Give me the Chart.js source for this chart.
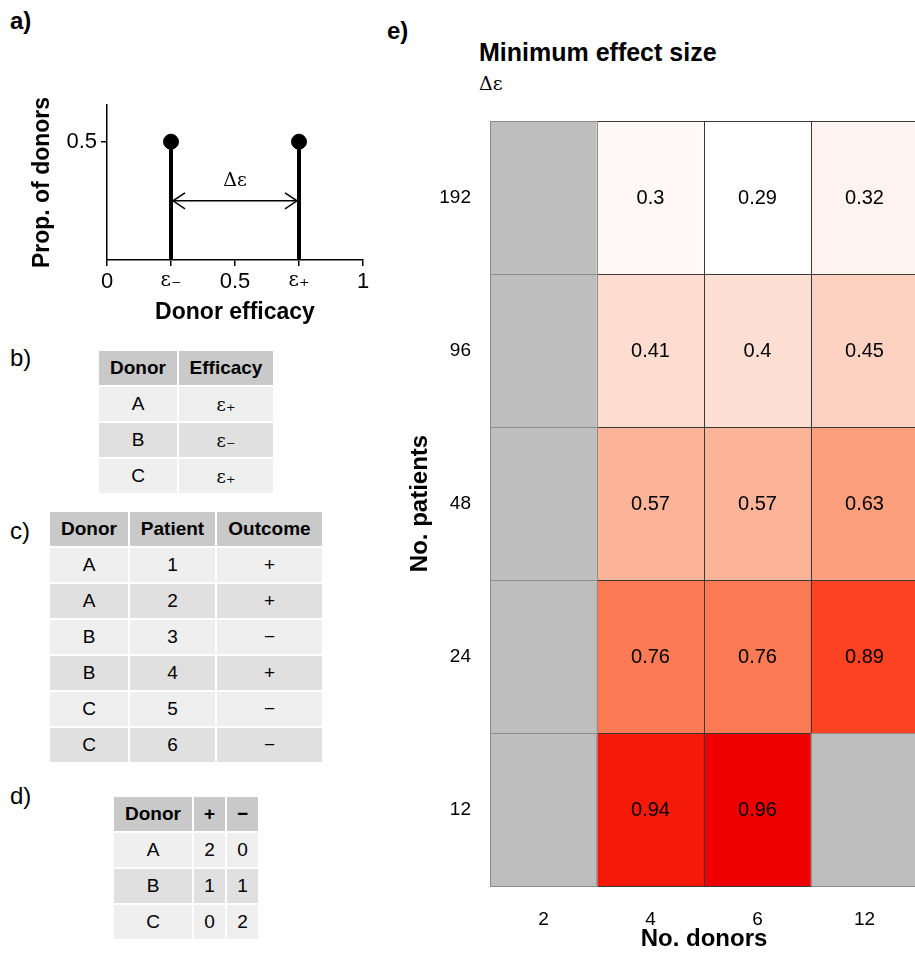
<!DOCTYPE html>
<html><head><meta charset="utf-8">
<script src="https://cdn.jsdelivr.net/npm/chart.js@4.4.1/dist/chart.umd.min.js"></script>
<style>
html,body{margin:0;padding:0;background:#fff;width:915px;height:954px;overflow:hidden;position:relative;font-family:"Liberation Sans",Arial,sans-serif;color:#000;}
.lbl{position:absolute;font-size:24px;line-height:1;white-space:nowrap;}
.b{font-weight:bold;}
.serif{font-family:"DejaVu Serif","Liberation Serif",serif;}
table{position:absolute;border-collapse:separate;border-spacing:2px;font-size:19px;text-align:center;}
th{background:#c9c9c9;font-weight:bold;height:34px;padding:0;}
td{height:34px;padding:0;}
tr.l td{background:#efefef}
tr.d td{background:#e0e0e0}
.eps{font-family:"DejaVu Serif","Liberation Serif",serif;font-size:18px;}
#wa{position:absolute;left:24px;top:95px;width:354px;height:234px;}
#we{position:absolute;left:380px;top:0;width:540px;height:954px;}
</style></head><body>
<div class="lbl b" style="left:10px;top:9px">a)</div>
<div class="lbl" style="left:10px;top:346px">b)</div>
<div class="lbl" style="left:10px;top:519px">c)</div>
<div class="lbl" style="left:10px;top:784px">d)</div>
<div class="lbl b" style="left:387px;top:19px">e)</div>
<div class="lbl b" style="left:479px;top:40px;font-size:25px">Minimum effect size</div>
<div class="lbl serif" style="left:479px;top:74px;font-size:19px">Δε</div>
<div id="wa"><canvas id="ca"></canvas></div>
<div id="we"><canvas id="ce"></canvas></div>
<table id="tb" style="left:97px;top:349px"></table>
<table id="tc" style="left:48px;top:510px"></table>
<table id="td" style="left:112px;top:795px"></table>
<script>
// ---------- Panel a data ----------
const efficacyLevels = [0.25, 0.75];
const donorProportion = [0.5, 0.5];
const xTickValues = [0, 0.25, 0.5, 0.75, 1];
const xTickLabels = ['0', 'ε₋', '0.5', 'ε₊', '1'];
const yTickValues = [0.5];
const arrowLevel = 0.25;
const deltaLabelLevel = 0.335;

// ---------- Tables data ----------
const tableBHeader = ['Donor', 'Efficacy'];
const tableBDonors = ['A', 'B', 'C'];
const tableBEfficacy = ['ε₊', 'ε₋', 'ε₊'];
const tableCHeader = ['Donor', 'Patient', 'Outcome'];
const tableCDonors = ['A', 'A', 'B', 'B', 'C', 'C'];
const tableCPatients = ['1', '2', '3', '4', '5', '6'];
const tableCOutcomes = ['+', '+', '−', '+', '−', '−'];
const tableDHeader = ['Donor', '+', '−'];
const tableDDonors = ['A', 'B', 'C'];
const tableDPositive = [2, 1, 0];
const tableDNegative = [0, 1, 2];

// ---------- Panel e data ----------
const donors = ['2', '4', '6', '12'];
const patients = ['192', '96', '48', '24', '12'];
const eff192 = [null, 0.3, 0.29, 0.32];
const eff96 = [null, 0.41, 0.4, 0.45];
const eff48 = [null, 0.57, 0.57, 0.63];
const eff24 = [null, 0.76, 0.76, 0.89];
const eff12 = [null, 0.94, 0.96, null];
const effRows = [eff192, eff96, eff48, eff24, eff12];

// ---------- build tables ----------
function buildTable(id, widths, header, cols, serifCol) {
  const t = document.getElementById(id);
  let h = '<tr>' + header.map((x, i) => `<th style="width:${widths[i]}px">${x}</th>`).join('') + '</tr>';
  for (let r = 0; r < cols[0].length; r++) {
    h += `<tr class="${r % 2 ? 'd' : 'l'}">` + cols.map((c, i) =>
      `<td${i === serifCol ? ' class="eps"' : ''}>${c[r]}</td>`).join('') + '</tr>';
  }
  t.innerHTML = h;
}
buildTable('tb', [78, 94], tableBHeader, [tableBDonors, tableBEfficacy], 1);
buildTable('tc', [78, 85, 105], tableCHeader, [tableCDonors, tableCPatients, tableCOutcomes], -1);
buildTable('td', [78, 31, 31], tableDHeader, [tableDDonors, tableDPositive, tableDNegative], -1);

const F = '"Liberation Sans", Arial, sans-serif';
const SERIF = '"DejaVu Serif", "Liberation Serif", serif';

// ---------- Panel a chart ----------
const arrowPlugin = {
  id: 'arrowPlugin',
  afterDatasetsDraw(chart) {
    const {ctx, scales} = chart;
    const x1 = scales.x.getPixelForValue(efficacyLevels[0]) + 2;
    const x2 = scales.x.getPixelForValue(efficacyLevels[1]) - 2;
    const y = scales.y.getPixelForValue(arrowLevel);
    ctx.save();
    ctx.strokeStyle = '#000'; ctx.lineWidth = 1.5;
    ctx.beginPath();
    ctx.moveTo(x1 + 12, y - 8); ctx.lineTo(x1, y); ctx.lineTo(x1 + 12, y + 8);
    ctx.moveTo(x2 - 12, y - 8); ctx.lineTo(x2, y); ctx.lineTo(x2 - 12, y + 8);
    ctx.stroke();
    ctx.fillStyle = '#000';
    ctx.font = '19px ' + SERIF;
    ctx.textAlign = 'center'; ctx.textBaseline = 'middle';
    ctx.fillText('Δε', scales.x.getPixelForValue(0.5), scales.y.getPixelForValue(deltaLabelLevel));
    ctx.restore();
  }
};

const stemSets = efficacyLevels.map((e, i) => ({
  type: 'line',
  data: [{x: e, y: 0}, {x: e, y: donorProportion[i]}],
  borderColor: '#000', borderWidth: 4, pointRadius: 0, showLine: true, clip: false
}));

new Chart(document.getElementById('ca'), {
  type: 'scatter',
  data: {
    datasets: [
      ...stemSets,
      {
        data: efficacyLevels.map((e, i) => ({x: e, y: donorProportion[i]})),
        pointRadius: 7.5, pointHoverRadius: 7.5, backgroundColor: '#000', borderColor: '#000', clip: false
      },
      {
        type: 'line',
        data: [{x: efficacyLevels[0], y: arrowLevel}, {x: efficacyLevels[1], y: arrowLevel}],
        borderColor: '#000', borderWidth: 1.5, pointRadius: 0, showLine: true
      }
    ]
  },
  options: {
    responsive: true, maintainAspectRatio: false, animation: false,
    layout: {padding: {top: 10, right: 15, left: 0, bottom: 0}},
    plugins: {legend: {display: false}, tooltip: {enabled: false}},
    scales: {
      x: {
        type: 'linear', min: 0, max: 1,
        afterBuildTicks(s) { s.ticks = xTickValues.map(v => ({value: v})); },
        afterFit(s) { s.height = 69; s.paddingLeft = 0; s.paddingRight = 0; },
        ticks: {
          color: '#000', padding: 3, maxRotation: 0, autoSkip: false,
          callback: (v, i) => xTickLabels[i],
          font: (c) => (c.index === 1 || c.index === 3) ? {family: SERIF, size: 20} : {family: F, size: 22}
        },
        grid: {drawOnChartArea: false, drawTicks: true, tickLength: 6, color: '#000', lineWidth: 1.5},
        border: {color: '#000', width: 1.5},
        title: {display: true, text: 'Donor efficacy', color: '#000', font: {family: F, size: 23, weight: 'bold'}, padding: {top: 0, bottom: 3}}
      },
      y: {
        type: 'linear', min: 0, max: 0.655,
        afterBuildTicks(s) { s.ticks = yTickValues.map(v => ({value: v})); },
        afterFit(s) { s.width = 83; s.paddingTop = 0; s.paddingBottom = 0; },
        ticks: {color: '#000', padding: 4, font: {family: F, size: 22}, callback: v => String(v)},
        grid: {drawOnChartArea: false, drawTicks: true, tickLength: 6, color: '#000', lineWidth: 1.5},
        border: {color: '#000', width: 1.5},
        title: {display: true, text: 'Prop. of donors', color: '#000', font: {family: F, size: 23, weight: 'bold'}, padding: {top: 5, bottom: 0}}
      }
    }
  },
  plugins: [arrowPlugin]
});

// ---------- Panel e heatmap ----------
const colorStops = [
  [0.29, [255, 255, 255]], [0.30, [255, 248, 246]], [0.41, [254, 220, 207]],
  [0.45, [253, 210, 192]], [0.57, [252, 180, 153]], [0.63, [252, 159, 124]],
  [0.76, [252, 122, 84]], [0.89, [254, 67, 34]], [0.94, [245, 26, 7]], [0.96, [239, 0, 0]]
];
function colorFor(v) {
  if (v <= colorStops[0][0]) return `rgb(${colorStops[0][1].join(',')})`;
  for (let k = 1; k < colorStops.length; k++) {
    const [v1, c1] = colorStops[k];
    const [v0, c0] = colorStops[k - 1];
    if (v <= v1) {
      const t = (v - v0) / (v1 - v0);
      return `rgb(${c0.map((c, j) => Math.round(c + (c1[j] - c) * t)).join(',')})`;
    }
  }
  return `rgb(${colorStops[colorStops.length - 1][1].join(',')})`;
}

// draw cell outlines and value labels from the bar elements
const cellDecor = {
  id: 'cellDecor',
  afterDatasetsDraw(chart) {
    const ctx = chart.ctx;
    ctx.save();
    const cells = [];
    chart.data.datasets.forEach((ds, i) => {
      chart.getDatasetMeta(i).data.forEach((el, j) => {
        const p = el.getProps(['x', 'y', 'base', 'width'], true);
        cells.push({v: effRows[i][j], l: p.x - p.width / 2, r: p.x + p.width / 2,
          t: Math.min(p.y, p.base), b: Math.max(p.y, p.base), cx: p.x, cy: (p.y + p.base) / 2});
      });
    });
    ctx.lineWidth = 1;
    const stroke = (c) => {
      ctx.strokeRect(Math.round(c.l) + 0.5, Math.round(c.t) + 0.5, Math.round(c.r) - Math.round(c.l), Math.round(c.b) - Math.round(c.t));
    };
    ctx.strokeStyle = '#3a3a3a';
    cells.filter(c => c.v != null).forEach(stroke);
    ctx.strokeStyle = '#8c8c8c';
    cells.filter(c => c.v == null).forEach(stroke);
    ctx.font = '20px ' + F;
    ctx.fillStyle = '#000'; ctx.textAlign = 'center'; ctx.textBaseline = 'middle';
    cells.filter(c => c.v != null).forEach(c => ctx.fillText(String(c.v), c.cx, c.cy + 1));
    ctx.restore();
  }
};

new Chart(document.getElementById('ce'), {
  type: 'bar',
  data: {
    labels: donors,
    datasets: effRows.map((vals, i) => ({
      label: patients[i],
      data: vals.map(() => [i, i + 1]),
      backgroundColor: vals.map(v => v == null ? '#bebebe' : colorFor(v)),
      borderWidth: 0,
      xAxisID: 'x', yAxisID: 'yv',
      barPercentage: 1, categoryPercentage: 1, grouped: false
    }))
  },
  options: {
    responsive: true, maintainAspectRatio: false, animation: false,
    layout: {padding: {top: 121, right: 2, left: 22, bottom: 0}},
    plugins: {legend: {display: false}, tooltip: {enabled: false}},
    scales: {
      x: {
        type: 'category', labels: donors, offset: true,
        grid: {display: false, drawTicks: false}, border: {display: false},
        ticks: {color: '#000', font: {family: F, size: 19}, padding: 22, maxRotation: 0},
        title: {display: true, text: 'No. donors', color: '#000', font: {family: F, size: 24, weight: 'bold'}, padding: {top: 0, bottom: 0}},
        afterFit(s) { s.height = 68; }
      },
      y: {
        type: 'category', labels: patients, offset: true, position: 'left',
        grid: {display: false, drawTicks: false}, border: {display: false},
        ticks: {color: '#000', font: {family: F, size: 19}, padding: 19},
        title: {display: true, text: 'No. patients', color: '#000', font: {family: F, size: 24, weight: 'bold'}, padding: {top: 4, bottom: 0}},
        afterFit(s) { s.width = 88; }
      },
      yv: {type: 'linear', display: false, min: 0, max: 5, reverse: true}
    }
  },
  plugins: [cellDecor]
});
</script>
</body></html>
